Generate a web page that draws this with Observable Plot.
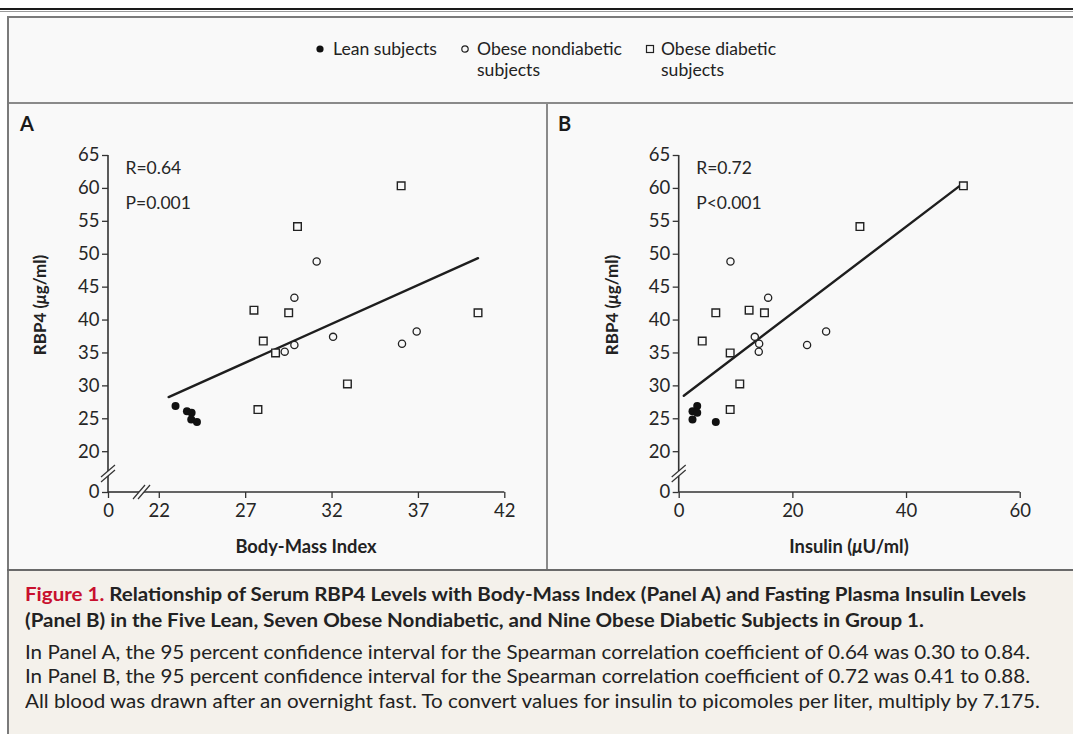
<!DOCTYPE html>
<html>
<head>
<meta charset="utf-8">
<script src="https://cdn.jsdelivr.net/npm/d3@7"></script>
<script src="https://cdn.jsdelivr.net/npm/@observablehq/plot@0.6"></script>
<style>
  html, body { margin: 0; padding: 0; background: #ffffff; }
  #page { position: relative; width: 1073px; height: 734px; overflow: hidden; font-family: Lato, "Open Sans", sans-serif; color: #222; background: #fff; }
  .box { position: absolute; }
  .t { position: absolute; white-space: nowrap; line-height: 20px; height: 20px; }
  svg.panel [aria-label$="tick label"] text { font-size: 18.5px; }
  svg.panel g[aria-label="text"] text { font-size: 17.5px; }
</style>
</head>
<body>
<div id="page"></div>
<script>
// ---------------- DATA ----------------
const groups = ["Lean subjects", "Obese nondiabetic subjects", "Obese diabetic subjects"];

// Lean subjects (filled circles)
const leanBMI     = [22.94, 23.60, 23.87, 23.85, 24.18];
const leanInsulin = [3.17, 2.34, 3.17, 2.34, 6.44];
const leanRBP4    = [26.95, 26.15, 25.93, 24.90, 24.50];

// Obese nondiabetic subjects (open circles)
const obeseNdBMI     = [31.11, 29.82, 32.06, 36.90, 36.05, 29.82, 29.26];
const obeseNdInsulin = [9.02, 15.65, 13.30, 25.85, 14.07, 22.50, 14.00];
const obeseNdRBP4    = [48.9, 43.4, 37.45, 38.25, 36.4, 36.2, 35.2];

// Obese diabetic subjects (open squares)
const obeseDBMI     = [36.00, 30.00, 27.48, 29.49, 40.45, 28.02, 28.73, 32.89, 27.71];
const obeseDInsulin = [50.0, 31.8, 12.3, 6.44, 15.0, 4.05, 8.97, 10.66, 8.97];
const obeseDRBP4    = [60.4, 54.2, 41.5, 41.1, 41.1, 36.8, 35.0, 30.3, 26.4];

// Regression lines (end points)
const fitA_BMI  = [22.54, 40.45];
const fitA_RBP4 = [28.3, 49.4];
const fitB_Insulin = [0.81, 50.0];
const fitB_RBP4    = [28.5, 60.8];

// Statistics annotations
const statsA = ["R=0.64", "P=0.001"];
const statsB = ["R=0.72", "P<0.001"];

// Axes (broken axes: "0" is drawn at a compressed position)
const yZeroPos = 13.8;
const yBreakPos = 16.6;
const yMax = 65;
const yTicks = [yZeroPos, 20, 25, 30, 35, 40, 45, 50, 55, 60, 65];
const yTickLabels = ["0", "20", "25", "30", "35", "40", "45", "50", "55", "60", "65"];

const xZeroPosA = 19.06;
const xBreakPosA = 21.0;
const xMaxA = 42;
const xTicksA = [xZeroPosA, 22, 27, 32, 37, 42];
const xTickLabelsA = ["0", "22", "27", "32", "37", "42"];

const xMaxB = 60;
const xTicksB = [0, 20, 40, 60];
const xTickLabelsB = ["0", "20", "40", "60"];

// --------------- BUILD ROWS ---------------
const rows = [];
leanBMI.forEach((v, i) => rows.push({group: groups[0], bmi: v, insulin: leanInsulin[i], rbp4: leanRBP4[i]}));
obeseNdBMI.forEach((v, i) => rows.push({group: groups[1], bmi: v, insulin: obeseNdInsulin[i], rbp4: obeseNdRBP4[i]}));
obeseDBMI.forEach((v, i) => rows.push({group: groups[2], bmi: v, insulin: obeseDInsulin[i], rbp4: obeseDRBP4[i]}));

const fitA = fitA_BMI.map((x, i) => ({x, y: fitA_RBP4[i]}));
const fitB = fitB_Insulin.map((x, i) => ({x, y: fitB_RBP4[i]}));

const page = document.getElementById("page");
function el(tag, cls, style, html) {
  const e = document.createElement(tag);
  if (cls) e.className = cls;
  Object.assign(e.style, style);
  if (html != null) e.innerHTML = html;
  page.appendChild(e);
  return e;
}
function squeeze(e, target) {
  const w = e.getBoundingClientRect().width;
  e.style.transformOrigin = "0 50%";
  e.style.transform = `scaleX(${target / w})`;
}

// --------------- FRAME ---------------
el("div", "box", {left: "0px", top: "8px", width: "1073px", height: "2px", background: "#1a1a1a"});
el("div", "box", {left: "0px", top: "10.5px", width: "1073px", height: "1px", background: "#9a9a9a"});
el("div", "box", {left: "9px", top: "18px", width: "1064px", height: "551px", background: "#f9f9f9"});
el("div", "box", {left: "9px", top: "571px", width: "1064px", height: "163px", background: "#f4f1eb"});
el("div", "box", {left: "7px", top: "16px", width: "2px", height: "718px", background: "#7a7a7a"});
el("div", "box", {left: "7px", top: "16px", width: "1066px", height: "2px", background: "#7a7a7a"});
el("div", "box", {left: "9px", top: "102px", width: "1064px", height: "2px", background: "#8a8a8a"});
el("div", "box", {left: "546px", top: "104px", width: "2px", height: "465px", background: "#8a8a8a"});
el("div", "box", {left: "7px", top: "568.5px", width: "1066px", height: "2.5px", background: "#6a6a6a"});

// --------------- LEGEND ---------------
function legendText(x, cy, txt, w) {
  const e = el("div", "t", {left: x + "px", top: (cy - 10) + "px", fontSize: "17.5px", color: "#222"}, txt);
  if (w) squeeze(e, w);
}
function legendSym(x, cy, kind) {
  const s = kind === "square"
    ? `<rect x="1.5" y="1.5" width="7" height="7" fill="none" stroke="#222" stroke-width="1.2"/>`
    : kind === "open"
      ? `<circle cx="5" cy="5" r="3.2" fill="none" stroke="#222" stroke-width="1.2"/>`
      : `<circle cx="5" cy="5" r="3.6" fill="#111"/>`;
  el("div", "box", {left: (x - 5) + "px", top: (cy - 5) + "px", width: "10px", height: "10px"},
    `<svg width="10" height="10" style="display:block">${s}</svg>`);
}
legendSym(320, 49, "filled"); legendText(333, 49, "Lean subjects", 104);
legendSym(465, 49, "open");   legendText(477, 49, "Obese nondiabetic", 145); legendText(477, 70, "subjects", 63);
legendSym(650, 49, "square"); legendText(661, 49, "Obese diabetic", 115);    legendText(661, 70, "subjects", 63);

// --------------- PANEL LETTERS ---------------
el("div", "t", {left: "20px", top: "113px", fontSize: "20px", fontWeight: "700", color: "#1a1a1a"}, "A");
el("div", "t", {left: "558px", top: "113px", fontSize: "20px", fontWeight: "700", color: "#1a1a1a"}, "B");

// --------------- PLOTS ---------------
const yLabelMap = new Map(yTicks.map((t, i) => [t, yTickLabels[i]]));

function axisLines({xMin, xMax, xBreak}) {
  return (index, scales) => {
    const {x, y} = scales;
    const g = d3.create("svg:g").attr("stroke", "#333").attr("fill", "none");
    const x0 = x(xMin), y0 = y(yZeroPos), yTop = y(yMax), yb = y(yBreakPos);
    const gap = 2.5;
    g.append("line").attr("x1", x0).attr("x2", x0).attr("y1", yTop).attr("y2", yb - gap).attr("stroke-width", 1.6);
    g.append("line").attr("x1", x0).attr("x2", x0).attr("y1", yb + gap).attr("y2", y0).attr("stroke-width", 1.6);
    for (const o of [-gap, gap]) {
      g.append("line").attr("x1", x0 - 7).attr("y1", yb + o + 6).attr("x2", x0 + 7).attr("y2", yb + o - 6).attr("stroke-width", 1.2);
    }
    const xEnd = x(xMax);
    if (xBreak != null) {
      const xb = x(xBreak);
      g.append("line").attr("x1", x0).attr("x2", xb - gap).attr("y1", y0).attr("y2", y0).attr("stroke-width", 1.6);
      g.append("line").attr("x1", xb + gap).attr("x2", xEnd).attr("y1", y0).attr("y2", y0).attr("stroke-width", 1.6);
      for (const o of [-gap, gap]) {
        g.append("line").attr("x1", xb + o - 6).attr("y1", y0 + 7).attr("x2", xb + o + 6).attr("y2", y0 - 7).attr("stroke-width", 1.2);
      }
    } else {
      g.append("line").attr("x1", x0).attr("x2", xEnd).attr("y1", y0).attr("y2", y0).attr("stroke-width", 1.6);
    }
    return g.node();
  };
}

function panel({xField, xDomain, xTicks, xTickLabels, xBreak, fit, stats, width, marginLeft, marginRight}) {
  const xLabelMap = new Map(xTicks.map((t, i) => [t, xTickLabels[i]]));
  const sub = g => rows.filter(r => r.group === g);
  const svg = Plot.plot({
    width, height: 465,
    marginLeft, marginRight, marginTop: 51, marginBottom: 77,
    style: {background: "transparent", fontFamily: "Lato, 'Open Sans', sans-serif", fontSize: "18px", color: "#333", overflow: "visible"},
    x: {domain: xDomain},
    y: {domain: [yZeroPos, yMax]},
    marks: [
      Plot.axisY(yTicks, {tickFormat: d => yLabelMap.get(d), tickSize: 6, tickPadding: 3, fontSize: 18.5, stroke: "#333", fill: "#262626", strokeWidth: 1.3, label: null}),
      Plot.axisX(xTicks, {tickFormat: d => xLabelMap.get(d), tickSize: 6, tickPadding: 5, fontSize: 18.5, stroke: "#333", fill: "#262626", strokeWidth: 1.3, label: null}),
      axisLines({xMin: xDomain[0], xMax: xDomain[1], xBreak}),
      Plot.line(fit, {x: "x", y: "y", stroke: "#1e1e1e", strokeWidth: 2.4}),
      Plot.dot(sub(groups[1]), {x: xField, y: "rbp4", r: 3.6, stroke: "#222", strokeWidth: 1.3, fill: "#f9f9f9"}),
      Plot.dot(sub(groups[2]), {x: xField, y: "rbp4", r: 4.3, symbol: "square", stroke: "#222", strokeWidth: 1.4, fill: "#f9f9f9"}),
      Plot.dot(sub(groups[0]), {x: xField, y: "rbp4", r: 4, fill: "#111", stroke: "none"}),
      Plot.text([stats[0]], {text: d => d, frameAnchor: "top-left", dx: 17, dy: 13, textAnchor: "start", lineAnchor: "middle", fontSize: 17.5, fill: "#262626"}),
      Plot.text([stats[1]], {text: d => d, frameAnchor: "top-left", dx: 17, dy: 48, textAnchor: "start", lineAnchor: "middle", fontSize: 17.5, fill: "#262626"})
    ]
  });
  svg.classList.add("panel");
  return svg;
}

const svgA = panel({xField: "bmi", xDomain: [xZeroPosA, xMaxA], xTicks: xTicksA, xTickLabels: xTickLabelsA, xBreak: xBreakPosA,
  fit: fitA, stats: statsA, width: 538, marginLeft: 99, marginRight: 42.7});
svgA.style.position = "absolute"; svgA.style.left = "9px"; svgA.style.top = "104px";
page.appendChild(svgA);

const svgB = panel({xField: "insulin", xDomain: [0, xMaxB], xTicks: xTicksB, xTickLabels: xTickLabelsB, xBreak: null,
  fit: fitB, stats: statsB, width: 525, marginLeft: 130.7, marginRight: 53.3});
svgB.style.position = "absolute"; svgB.style.left = "548px"; svgB.style.top = "104px";
page.appendChild(svgB);

// --------------- AXIS TITLES ---------------
function centered(cx, cy, html, size, rotate) {
  return el("div", "t", {left: cx + "px", top: cy + "px", fontSize: size + "px", fontWeight: "700", color: "#222",
    transform: `translate(-50%, -50%)${rotate ? " rotate(-90deg)" : ""}`}, html);
}
centered(40, 305, "RBP4 (<i>μ</i>g/ml)", 17, true);
centered(612, 305, "RBP4 (<i>μ</i>g/ml)", 17, true);
centered(306, 546, "Body-Mass Index", 18.3, false);
centered(849, 546, "Insulin (<i>μ</i>U/ml)", 18.3, false);

// --------------- CAPTION ---------------
const capBold = [
  `<span style="color:#c8102e">Figure 1.</span> Relationship of Serum RBP4 Levels with Body-Mass Index (Panel A) and Fasting Plasma Insulin Levels`,
  `(Panel B) in the Five Lean, Seven Obese Nondiabetic, and Nine Obese Diabetic Subjects in Group 1.`
];
const capRegular = [
  "In Panel A, the 95 percent confidence interval for the Spearman correlation coefficient of 0.64 was 0.30 to 0.84.",
  "In Panel B, the 95 percent confidence interval for the Spearman correlation coefficient of 0.72 was 0.41 to 0.88.",
  "All blood was drawn after an overnight fast. To convert values for insulin to picomoles per liter, multiply by 7.175."
];
const capY = [594, 620, 652, 676, 701];
const boldEls = capBold.map((t, i) => el("div", "t", {left: "25px", top: (capY[i] - 10) + "px", fontSize: "18.5px", fontWeight: "700", color: "#222"}, t));
const regEls = capRegular.map((t, i) => el("div", "t", {left: "25px", top: (capY[i + 2] - 10) + "px", fontSize: "18.5px", fontWeight: "400", color: "#222"}, t));
const bw = boldEls[0].getBoundingClientRect().width;
boldEls.forEach(e => { e.style.transformOrigin = "0 50%"; e.style.transform = `scaleX(${1001 / bw})`; });
const rw = regEls[0].getBoundingClientRect().width;
regEls.forEach(e => { e.style.transformOrigin = "0 50%"; e.style.transform = `scaleX(${1005 / rw})`; });
</script>
</body>
</html>
